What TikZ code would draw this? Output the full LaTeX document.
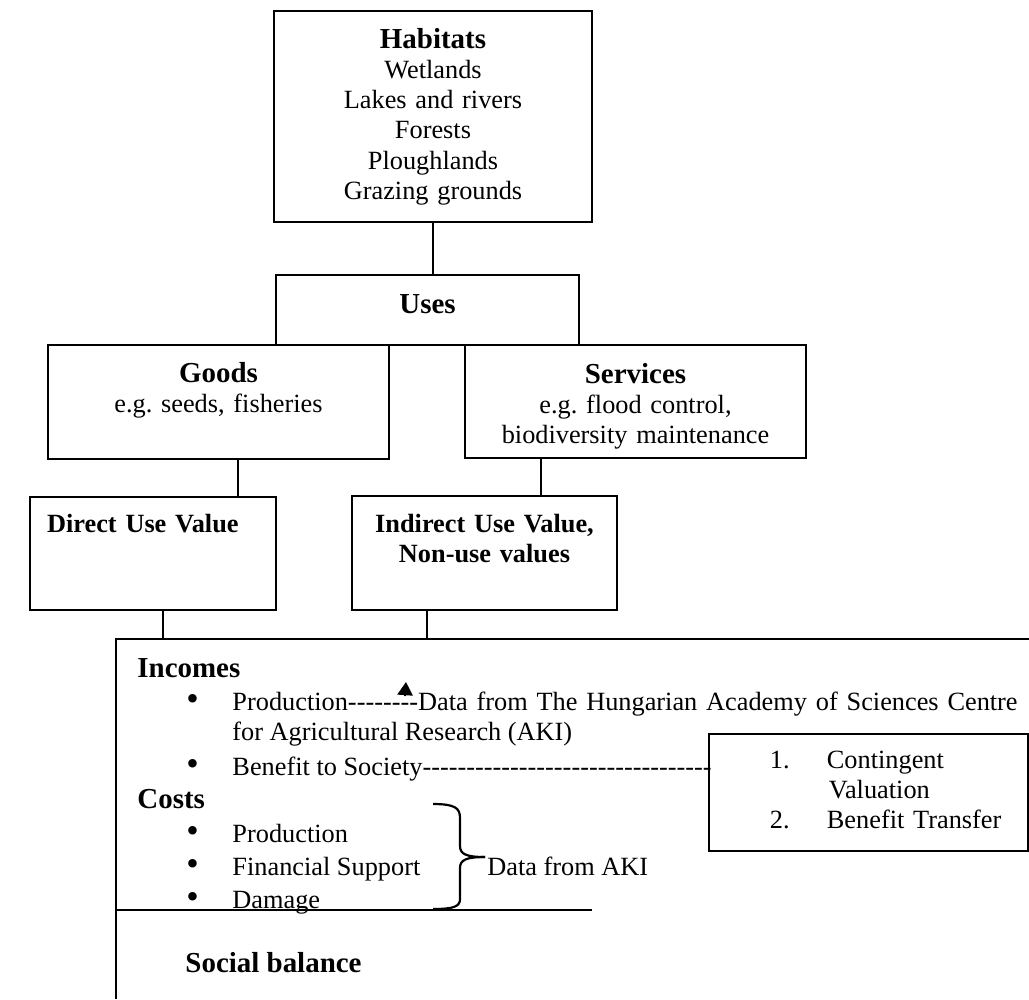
\documentclass[tikz,border=0pt]{standalone}
\usepackage{fontspec}
\setmainfont{Liberation Serif}
\usepackage{xcolor}
\usepackage{tikz}
\usetikzlibrary{arrows.meta}

\newcommand{\dashrun}[1]{\foreach \n in {1,...,#1}{\mbox{-}}}
\newcommand{\bul}{\makebox[21pt][l]{\scalebox{1.35}{\textbullet}}}
\newcommand{\headword}[1]{{\fontsize{13.2}{13.8}\selectfont\bfseries #1}}

\begin{document}
\frenchspacing
\begin{tikzpicture}[x=0.456pt,y=-0.456pt]
			\tikzstyle{box} = [draw, line width=0.75pt, inner sep=0pt, align=center, font=\fontsize{12}{13.8}\selectfont]
			\tikzstyle{entry} = [anchor=base west, inner sep=0pt, font=\fontsize{12}{13.8}\selectfont]
			\tikzset{edge/.style = {-, line width=0.75pt}}
			
			\useasboundingbox (0,0) rectangle (1029,999);
			
			\node[box, anchor=base, text width=145pt, text height=16.9pt, text depth=79.3pt](habitats) at (433,48) {\headword{Habitats}\\Wetlands\\Lakes and rivers\\Forests\\Ploughlands\\Grazing grounds};
			\node[box, anchor=base, text width=138.2pt, text height=17.3pt, text depth=14.6pt](uses) at (427.5,313) {\headword{Uses}};
			\node[box, anchor=base, text width=155.5pt, text height=16.9pt, text depth=35.1pt](goods) at (218.5,382) {\headword{Goods}\\e.g. seeds, fisheries};
			\node[box, anchor=base, text width=155.5pt, text height=17.3pt, text depth=34.2pt](services) at (635.5,383) {\headword{Services}\\e.g. flood control,\\biodiversity maintenance};
			\node[box, anchor=base, align=left, text width=112.2pt, text height=16pt, text depth=35.6pt](direct) at (153,532) {\hspace*{7.8pt}\textbf{Direct Use Value}};
			\node[box, anchor=base, text width=120.8pt, text height=16.4pt, text depth=35.6pt](indirect) at (484.5,532) {\textbf{Indirect Use Value,}\\\textbf{Non-use values}};
			\draw[edge](habitats.south) to (habitats.south |- uses.north);
			
			\coordinate (goodsfoot) at (238,459);
			\coordinate (servicesfoot) at (541,458);
			\draw[edge](goodsfoot) to (goodsfoot |- direct.north);
			\draw[edge](servicesfoot) to (servicesfoot |- indirect.north);
			
			% ledger of incomes and costs
			\coordinate (ledgertl) at (116,639);
			\coordinate (ledgertr) at (1029,639);
			\coordinate (ledgerbl) at (116,999);
			\coordinate (divider) at (592,910);
			\draw[edge](ledgerbl) -- (ledgertl) -- (ledgertr);
			\draw[edge](ledgertl |- divider) to (divider);
			\coordinate (directfoot) at (163,610);
			\coordinate (indirectfoot) at (427,610);
			\draw[edge](directfoot) to (directfoot |- ledgertl);
			\draw[edge](indirectfoot) to (indirectfoot |- ledgertl);
			
			\node[entry](incomes) at (137,677) {\headword{Incomes}};
			\node[entry](prodin) at (186,710) {\bul\makebox[358pt][s]{Production\dashrun{8}Data from The Hungarian Academy of Sciences Centre}};
			\node[entry](prodin2) at (232,740) {for Agricultural Research (AKI)};
			\node[entry](benefit) at (186,775) {\bul Benefit to Society\dashrun{33}};
			\node[entry](costs) at (137,808) {\headword{Costs}};
			\node[entry](prodcost) at (186,842) {\bul Production};
			\node[entry](support) at (186,875) {\bul Financial Support};
			\node[entry](damage) at (186,908) {\bul Damage};
			\node[entry](aki) at (487,875) {Data from AKI};
			\node[entry](balance) at (185,972) {\headword{Social balance}};
			
			\node[box, anchor=base, align=left, text width=145.5pt, text height=15.5pt, text depth=37.8pt](methods) at (868.5,768) {\hspace*{27.8pt}\makebox[26pt][l]{1.}Contingent\\\hspace*{54.7pt}Valuation\\\hspace*{27.8pt}\makebox[26pt][l]{2.}Benefit Transfer};
			
			\coordinate (arrowfoot) at (405,696);
			\coordinate (arrowtip) at (406,682);
			\draw[-{Triangle[length=6pt,width=7pt]}, line width=0.75pt](arrowfoot) to (arrowtip);
			
			% brace round the costs
			\draw[line width=1pt] (433,804) .. controls (455,804) and (460,808) .. (460,818) -- (460,846) .. controls (460,854) and (466,857) .. (485,857);
			\draw[line width=1pt] (485,857) .. controls (466,857) and (460,860) .. (460,868) -- (460,899) .. controls (460,906) and (455,909) .. (433,909);
			
			\end{tikzpicture}
\end{document}
